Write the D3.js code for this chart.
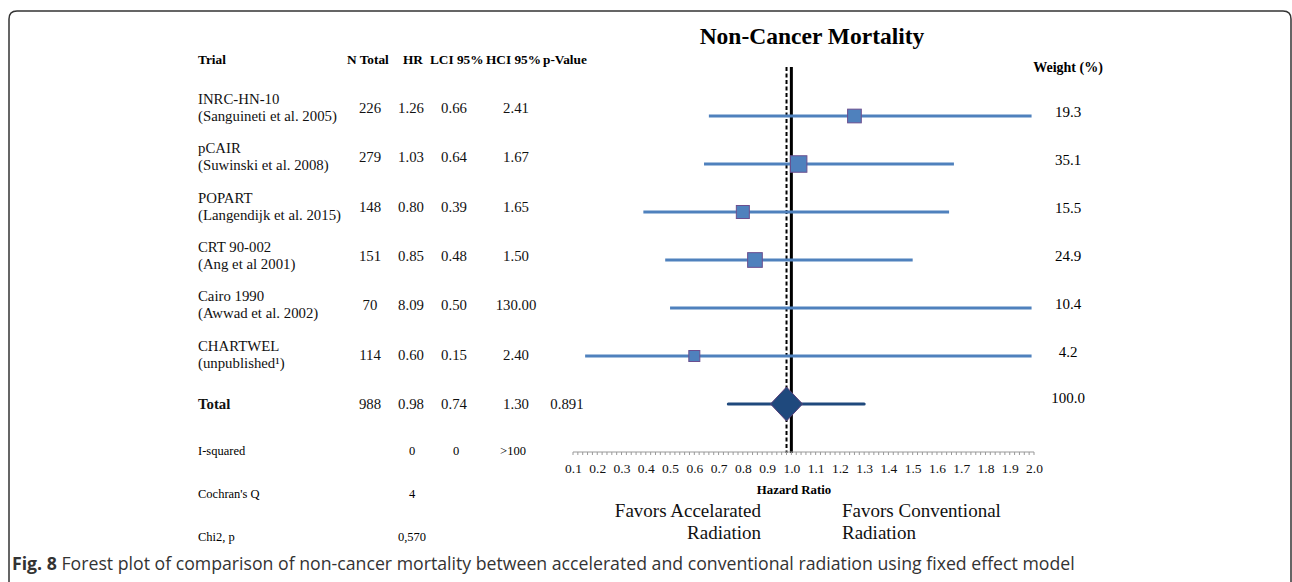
<!DOCTYPE html>
<html><head><meta charset="utf-8">
<script src="https://cdn.jsdelivr.net/npm/d3@7"></script>
<style>
html,body{margin:0;padding:0;background:#fff;}
svg{display:block;}
</style></head>
<body>
<svg id="c" width="1292" height="582"></svg>
<script>
// ---- data ----
const trialNames = ["INRC-HN-10","pCAIR","POPART","CRT 90-002","Cairo 1990","CHARTWEL"];
const trialRefs = ["(Sanguineti et al. 2005)","(Suwinski et al. 2008)","(Langendijk et al. 2015)","(Ang et al 2001)","(Awwad et al. 2002)","(unpublished¹)"];
const nTotal = [226,279,148,151,70,114];
const hr = [1.26,1.03,0.80,0.85,8.09,0.60];
const lci = [0.66,0.64,0.39,0.48,0.50,0.15];
const hci = [2.41,1.67,1.65,1.50,130.00,2.40];
const weights = [19.3,35.1,15.5,24.9,10.4,4.2];
const total = {n:988, hr:0.98, lci:0.74, hci:1.30, p:"0.891", w:"100.0"};
const headers = ["Trial","N Total","HR","LCI 95%","HCI 95%","p-Value"];
const statLabels = ["I-squared","Cochran's Q","Chi2, p"];
const statVals = [["0","0",">100"],["4","",""],["0,570","",""]];
const xTicks = [0.1,0.2,0.3,0.4,0.5,0.6,0.7,0.8,0.9,1.0,1.1,1.2,1.3,1.4,1.5,1.6,1.7,1.8,1.9,2.0];
const xDomain = [0.1, 2.0];

const svg = d3.select("#c");
const serif = "'Liberation Serif', serif";

// frame
svg.append("path")
  .attr("d","M9,582 L9,19 Q9,11 17,11 L1283,11 Q1291,11 1291,19 L1291,582")
  .attr("fill","none").attr("stroke","#333").attr("stroke-width",1.5);

// scales
const x = d3.scaleLinear().domain(xDomain).range([573,1034]);
const yPlot = d3.scaleLinear().domain([0,6]).range([116,404]);
const yTab = d3.scaleLinear().domain([0,6]).range([108,404]);
const sq = d3.scaleLinear().domain([4.2,35.1]).range([11,16.5]);
const colX = {trial:198, n:370, hr:411, lci:454, hci:516, p:567};

// title
svg.append("text").attr("x",812).attr("y",44).attr("text-anchor","middle")
  .attr("font-family",serif).attr("font-weight","bold").attr("font-size",23.5).text("Non-Cancer Mortality");

// headers
const hx = [198,347,403,430,486,543];
svg.selectAll(".hdr").data(headers).join("text")
  .attr("x",(d,i)=>hx[i]).attr("y",64)
  .attr("font-family",serif).attr("font-weight","bold").attr("font-size",13.3).text(d=>d);
svg.append("text").attr("x",1068).attr("y",72).attr("text-anchor","middle")
  .attr("font-family",serif).attr("font-weight","bold").attr("font-size",14).text("Weight (%)");

// table rows
const rows = trialNames.map((t,i)=>({i,name:t,ref:trialRefs[i],n:nTotal[i],hr:hr[i],lci:lci[i],hci:hci[i],w:weights[i]}));
const g = svg.append("g").attr("font-family",serif).attr("font-size",14.8).attr("fill","#111");
rows.forEach(r=>{
  const y = yTab(r.i);
  g.append("text").attr("x",colX.trial).attr("y",y-4).text(r.name);
  g.append("text").attr("x",colX.trial).attr("y",y+13).text(r.ref);
  g.append("text").attr("x",colX.n).attr("y",y+5).attr("text-anchor","middle").text(r.n);
  g.append("text").attr("x",colX.hr).attr("y",y+5).attr("text-anchor","middle").text(r.hr.toFixed(2));
  g.append("text").attr("x",colX.lci).attr("y",y+5).attr("text-anchor","middle").text(r.lci.toFixed(2));
  g.append("text").attr("x",colX.hci).attr("y",y+5).attr("text-anchor","middle").text(r.hci.toFixed(2));
});
// total row
const yt = yTab(6);
g.append("text").attr("x",colX.trial).attr("y",yt+5).attr("font-weight","bold").text("Total");
g.append("text").attr("x",colX.n).attr("y",yt+5).attr("text-anchor","middle").text(total.n);
g.append("text").attr("x",colX.hr).attr("y",yt+5).attr("text-anchor","middle").text(total.hr.toFixed(2));
g.append("text").attr("x",colX.lci).attr("y",yt+5).attr("text-anchor","middle").text(total.lci.toFixed(2));
g.append("text").attr("x",colX.hci).attr("y",yt+5).attr("text-anchor","middle").text(total.hci.toFixed(2));
g.append("text").attr("x",colX.p).attr("y",yt+5).attr("text-anchor","middle").text(total.p);

// stats
const sy = [451,494,537];
statLabels.forEach((s,i)=>{
  svg.append("text").attr("x",198).attr("y",sy[i]+4).attr("font-family",serif).attr("font-size",12.5).text(s);
  [412,456,513].forEach((cx,j)=>{
    if(statVals[i][j]) svg.append("text").attr("x",cx).attr("y",sy[i]+4).attr("text-anchor","middle")
      .attr("font-family",serif).attr("font-size",12.5).text(statVals[i][j]);
  });
});

// reference lines
svg.append("line").attr("x1",x(total.hr)).attr("x2",x(total.hr)).attr("y1",67).attr("y2",453)
  .attr("stroke","#000").attr("stroke-width",2).attr("stroke-dasharray","4,2.5");
svg.append("line").attr("x1",x(1)).attr("x2",x(1)).attr("y1",67).attr("y2",453)
  .attr("stroke","#000").attr("stroke-width",3);

// CI lines and squares
const drawMax = 1.99;
rows.forEach(r=>{
  const y = yPlot(r.i);
  svg.append("line").attr("x1",x(Math.max(r.lci,xDomain[0]))).attr("x2",x(Math.min(r.hci,drawMax)))
    .attr("y1",y).attr("y2",y).attr("stroke","#4f81bd").attr("stroke-width",3);
  if(r.hr<=xDomain[1]){
    const s = sq(r.w);
    svg.append("rect").attr("x",x(r.hr)-s/2).attr("y",y-s/2).attr("width",s).attr("height",s)
      .attr("fill","#4f81bd").attr("stroke","#6b4f8f").attr("stroke-width",1);
  }
  svg.append("text").attr("x",1068).attr("y",y+1).attr("text-anchor","middle")
    .attr("font-family",serif).attr("font-size",15).text(r.w.toFixed(1));
});
// total
const yp = yPlot(6);
svg.append("line").attr("x1",x(total.lci)).attr("x2",x(total.hci)).attr("y1",yp).attr("y2",yp)
  .attr("stroke","#1f497d").attr("stroke-width",3).attr("stroke-linecap","round");
const cx = x(total.hr), dw=16, dh=17;
svg.append("path").attr("d",`M${cx},${yp-dh} L${cx+dw},${yp} L${cx},${yp+dh} L${cx-dw},${yp} Z`)
  .attr("fill","#1f497d").attr("stroke","#5a3f7a").attr("stroke-width",1);
svg.append("text").attr("x",1068).attr("y",yp-1).attr("text-anchor","middle")
  .attr("font-family",serif).attr("font-size",15).text(total.w);

// axis
const axisG = svg.append("g").attr("transform","translate(0,452)");
axisG.append("line").attr("x1",x(0.1)).attr("x2",x(2.0)).attr("stroke","#999").attr("stroke-width",1);
const minor = d3.range(0,96).map(i=>0.1+i*0.02);
axisG.selectAll(".mt").data(minor).join("line")
  .attr("x1",d=>x(d)).attr("x2",d=>x(d)).attr("y1",0).attr("y2",3).attr("stroke","#999").attr("stroke-width",1);
const ax = d3.axisBottom(x).tickValues(xTicks).tickFormat(d3.format(".1f")).tickSize(0).tickPadding(11);
const axG = axisG.append("g").call(ax);
axG.select(".domain").remove();
axG.selectAll("text").attr("font-family",serif).attr("font-size",13.5).attr("fill","#111");

svg.append("text").attr("x",794).attr("y",494).attr("text-anchor","middle")
  .attr("font-family",serif).attr("font-weight","bold").attr("font-size",12.8).text("Hazard Ratio");

// favors labels
const fav = svg.append("g").attr("font-family",serif).attr("font-size",19).attr("fill","#111");
fav.append("text").attr("x",761).attr("y",517).attr("text-anchor","end").text("Favors Accelarated");
fav.append("text").attr("x",761).attr("y",539).attr("text-anchor","end").text("Radiation");
fav.append("text").attr("x",842).attr("y",517).text("Favors Conventional");
fav.append("text").attr("x",842).attr("y",539).text("Radiation");

// caption
const cap = svg.append("text").attr("x",12).attr("y",570).attr("font-family","'Open Sans', sans-serif")
  .attr("font-size",17.7).attr("fill","#333");
cap.append("tspan").attr("font-weight","bold").text("Fig. 8");
cap.append("tspan").text(" Forest plot of comparison of non-cancer mortality between accelerated and conventional radiation using fixed effect model");
</script>
</body></html>
